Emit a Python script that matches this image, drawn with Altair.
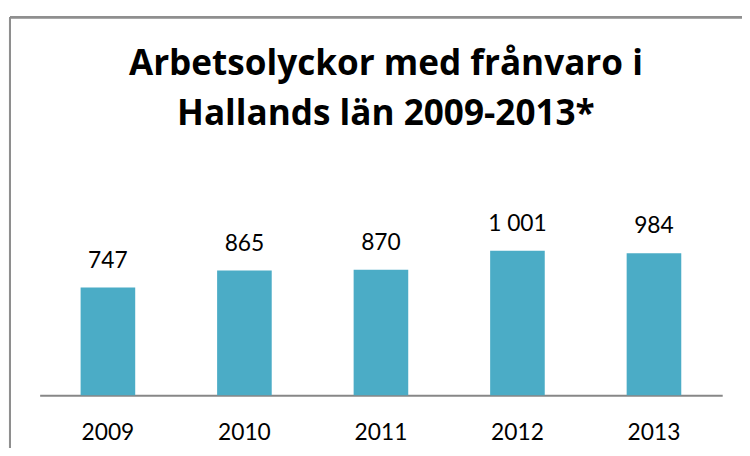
import altair as alt
import pandas as pd

years = ["2009", "2010", "2011", "2012", "2013"]
values = [747, 865, 870, 1001, 984]
labels = [f"{v:,}".replace(",", " ") for v in values]
title_lines = ["Arbetsolyckor med frånvaro i", "Hallands län 2009-2013*"]

df = pd.DataFrame({"year": years, "value": values, "label": labels})

FONT = "Lato"

x_enc = alt.X(
    "year:O",
    scale=alt.Scale(paddingInner=0.6, paddingOuter=0.3),
    axis=alt.Axis(
        title=None,
        labelAngle=0,
        ticks=False,
        domainColor="#878787",
        domainWidth=2,
        labelFont=FONT,
        labelFontSize=23,
        labelColor="#000000",
        labelPadding=27,
        labelBaseline="top",
    ),
)
y_enc = alt.Y("value:Q", scale=alt.Scale(domain=[0, 1200]), axis=None)

base = alt.Chart(df)

bars = base.mark_bar(color="#4BACC6").encode(x=x_enc, y=y_enc)

text = base.mark_text(
    font=FONT, fontSize=23, color="#000000", baseline="alphabetic", dy=-20
).encode(x=x_enc, y=y_enc, text="label:N")

top_line = base.mark_rule(color="#8f8f8f", strokeWidth=2).encode(
    x=alt.value(-30), x2=alt.value(730), y=alt.value(-207)
)
left_line = base.mark_rule(color="#8f8f8f", strokeWidth=2).encode(
    x=alt.value(-30), y=alt.value(-207), y2=alt.value(240)
)

chart = (
    alt.layer(top_line, left_line, bars, text)
    .properties(
        width=690,
        height=175,
        title=alt.TitleParams(
            text=title_lines,
            font="Open Sans",
            fontSize=35.5,
            fontWeight="bold",
            color="#000000",
            anchor="middle",
            baseline="alphabetic",
            lineHeight=50,
            offset=-145,
            dx=5,
        ),
        autosize=alt.AutoSizeParams(type="none"),
        padding={"left": 32, "top": 214, "right": 20, "bottom": 51},
        background="#ffffff",
    )
    .configure_view(stroke=None)
)

chart.save("out.html", embed_options={"renderer": "svg", "actions": False})
